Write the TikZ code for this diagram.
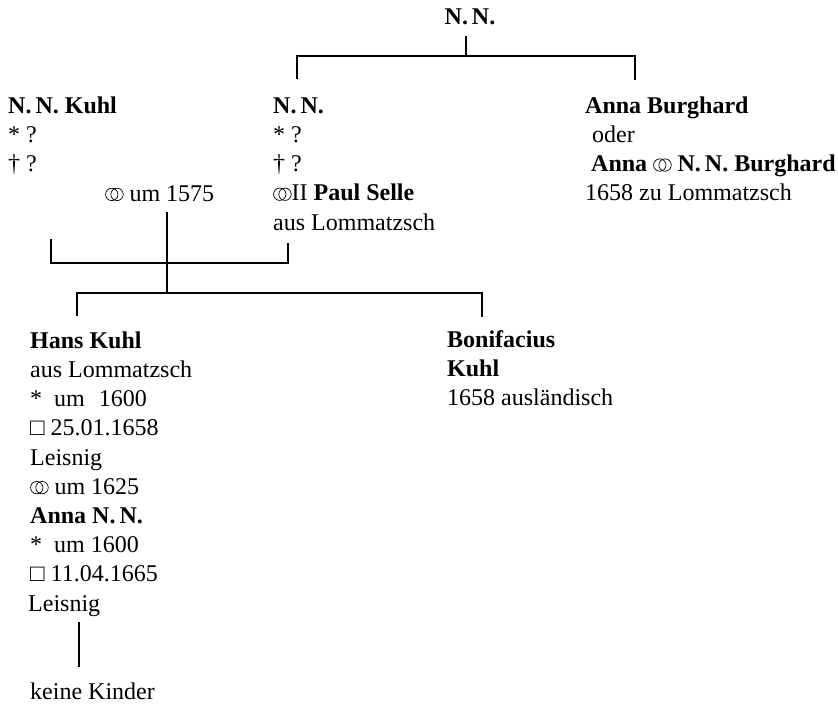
\documentclass[tikz,border=0pt]{standalone}
\usepackage{fontspec}
\setmainfont{Liberation Serif}
% marriage sign: two interlocking rings sitting on the baseline
\newcommand\ringsym{\tikz[baseline=0pt,x=1pt,y=1pt,line width=0.7pt]{%
  \draw (6.5,6.6) circle (6.2);
  \draw (11.8,6.6) circle (6.2);}}

\begin{document}
\begin{tikzpicture}[x=1pt,y=-1pt,
  % each text block is placed by the top of its first line's strut,
  % i.e. 20.44pt above that line's baseline
  person/.style={anchor=north west, inner sep=0pt, align=left,
                 font=\fontsize{24}{29.2}\selectfont},
  lbl/.style={anchor=base west, inner sep=0pt,
              font=\fontsize{24}{29.2}\selectfont},
  link/.style={draw=black, line width=1.1pt}]
\useasboundingbox (0,0) rectangle (838,706);

% --- persons ---
\node[lbl, anchor=base, font=\fontsize{24}{29.2}\selectfont\bfseries] (top) at (470,25) {N.\,N.};

\node[person] (kuhl) at (8,92.6) {\strut\textbf{N.\,N. Kuhl}\\{}* ?\\† ?};
\node[lbl] (m1) at (105,201) {\ringsym\ um 1575};
\node[person] (nnm) at (273,92.6)
  {\strut\textbf{N.\,N.}\\{}* ?\\† ?\\\ringsym II \textbf{Paul Selle}\\aus Lommatzsch};
\node[person] (ab) at (585,92.6)
  {\strut\textbf{Anna Burghard}\\\hspace*{7pt}oder\\\hspace*{6pt}\textbf{Anna} \ringsym\ \textbf{N.\,N. Burghard}\\1658 zu Lommatzsch};

\node[person] (hans) at (30,327.6)
  {\strut\textbf{Hans Kuhl}\\aus Lommatzsch\\{}*\hspace{12pt}um\hspace{14pt}1600\\□ 25.01.1658\\Leisnig\\
   \ringsym\ um 1625\\\textbf{Anna N.\,N.}\\{}*\hspace{12pt}um 1600\\□ 11.04.1665\\\hspace*{-2pt}Leisnig};
\node[person] (boni) at (447,326.6) {\strut\textbf{Bonifacius}\\\textbf{Kuhl}\\1658 ausländisch};
\node[lbl] (keine) at (30,699) {keine Kinder};

% --- junctions ---
\coordinate (j0) at (466,56);
\coordinate (dL) at (297,79);
\coordinate (dR) at (635,80);
\coordinate (mk) at (51,239);
\coordinate (ms) at (288,243);
\coordinate (mj) at (167,263);
\coordinate (mtop) at (167,212);
\coordinate (cj) at (167,293);
\coordinate (cL) at (77,316);
\coordinate (cR) at (482,317);
\coordinate (hx) at (79,0);

% --- lines ---
\draw[link] (top.south -| j0) ++(0,10) -- (j0);
\draw[link] (dL) -- (dL |- j0) -- (dR |- j0) -- (dR);
\draw[link] (mk) -- (mk |- mj) -- (ms |- mj) -- (ms);
\draw[link] (mtop) -- (cj);
\draw[link] (cL) -- (cL |- cj) -- (cR |- cj) -- (cR);
\draw[link] (hx |- 0,622) -- (hx |- 0,667);
\end{tikzpicture}
\end{document}
